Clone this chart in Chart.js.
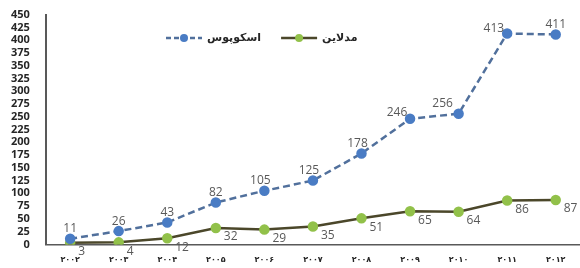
<!DOCTYPE html>
<html>
<head>
<meta charset="utf-8">
<script src="https://cdn.jsdelivr.net/npm/chart.js@4.4.0/dist/chart.umd.min.js"></script>
<style>
  html, body { margin: 0; padding: 0; background: #fff; }
  #wrap { width: 580px; height: 268px; }
</style>
</head>
<body>
<div id="wrap"><canvas id="myChart"></canvas></div>
<script>
// Years (Persian digits as in the original)
var years = ['۲۰۰۲', '۲۰۰۳', '۲۰۰۴', '۲۰۰۵', '۲۰۰۶', '۲۰۰۷', '۲۰۰۸', '۲۰۰۹', '۲۰۱۰', '۲۰۱۱', '۲۰۱۲'];
var scopusName = 'اسکوپوس';
var medlineName = 'مدلاین';
var scopus = [11, 26, 43, 82, 105, 125, 178, 246, 256, 413, 411];
var medline = [3, 4, 12, 32, 29, 35, 51, 65, 64, 86, 87];

// Value labels next to each point
var valueLabels = {
    id: 'valueLabels',
    afterDatasetsDraw: function (chart) {
        var ctx = chart.ctx;
        ctx.save();
        ctx.font = '12px "Open Sans", sans-serif';
        ctx.fillStyle = '#595959';
        ctx.textBaseline = 'middle';
        chart.data.datasets.forEach(function (ds, di) {
            var meta = chart.getDatasetMeta(di);
            meta.data.forEach(function (pt, i) {
                var x = pt.x, y = pt.y;
                ctx.textAlign = 'center';
                if (di === 0) {
                    // above the point, nudged left where the line climbs steeply
                    if (i === 9) { ctx.textAlign = 'right'; x -= 3; y -= 5; }
                    else if (i === 8) { x -= 16; y -= 10; }
                    else if (i === 7) { x -= 13; y -= 6; }
                    else if (i >= 4 && i <= 6) { x -= 4; y -= 10; }
                    else { y -= 10; }
                } else {
                    ctx.textAlign = 'left';
                    x += 8; y += 9;
                }
                ctx.fillText(ds.data[i], x, y);
            });
        });
        ctx.restore();
    }
};

// Legend drawn inside the plot area (line + dot, then name)
var insideLegend = {
    id: 'insideLegend',
    afterDraw: function (chart) {
        var ctx = chart.ctx;
        var ds = chart.data.datasets;
        var y = 38;
        var x = 166;
        ctx.save();
        ctx.font = 'bold 11px "DejaVu Sans", sans-serif';
        ctx.textBaseline = 'middle';
        ctx.textAlign = 'left';
        ds.forEach(function (d) {
            ctx.strokeStyle = d.borderColor;
            ctx.lineWidth = 2.5;
            ctx.setLineDash(d.borderDash ? [5, 3] : []);
            ctx.beginPath();
            ctx.moveTo(x, y); ctx.lineTo(x + 36, y);
            ctx.stroke();
            ctx.setLineDash([]);
            ctx.fillStyle = d.pointBackgroundColor;
            ctx.beginPath();
            ctx.arc(x + 18, y, 4, 0, Math.PI * 2);
            ctx.fill();
            ctx.fillStyle = '#262626';
            ctx.fillText(d.label, x + 41, y);
            x += 41 + ctx.measureText(d.label).width + 20;
        });
        ctx.restore();
    }
};

var ctx = document.getElementById('myChart').getContext('2d');
var myChart = new Chart(ctx, {
    type: 'line',
    data: {
        labels: years,
        datasets: [
            {
                label: scopusName,
                data: scopus,
                borderColor: '#51709c',
                borderWidth: 2.5,
                borderDash: [7, 4],
                pointBackgroundColor: '#4a7cc4',
                pointBorderColor: '#4a7cc4',
                pointRadius: 4,
                tension: 0
            },
            {
                label: medlineName,
                data: medline,
                borderColor: '#4b472a',
                borderWidth: 2.5,
                pointBackgroundColor: '#92c14a',
                pointBorderColor: '#92c14a',
                pointRadius: 4,
                tension: 0
            }
        ]
    },
    options: {
        responsive: true,
        maintainAspectRatio: false,
        animation: false,
        layout: { autoPadding: false, padding: { top: 8, right: 0, left: 3, bottom: 0 } },
        scales: {
            y: {
                min: 0,
                max: 450,
                ticks: {
                    stepSize: 25,
                    autoSkip: false,
                    color: '#262626',
                    padding: 8,
                    font: { size: 11, weight: 'bold', family: '"Open Sans", sans-serif' }
                },
                grid: { display: false },
                border: { display: true, color: '#595959', width: 2 }
            },
            x: {
                offset: true,
                ticks: {
                    autoSkip: false,
                    color: '#262626',
                    padding: 3,
                    font: { size: 8, weight: 'bold', family: '"DejaVu Sans", sans-serif' }
                },
                grid: { display: false },
                border: { display: true, color: '#595959', width: 1.5 }
            }
        },
        plugins: {
            legend: { display: false },
            tooltip: { enabled: false }
        }
    },
    plugins: [valueLabels, insideLegend]
});
</script>
</body>
</html>
